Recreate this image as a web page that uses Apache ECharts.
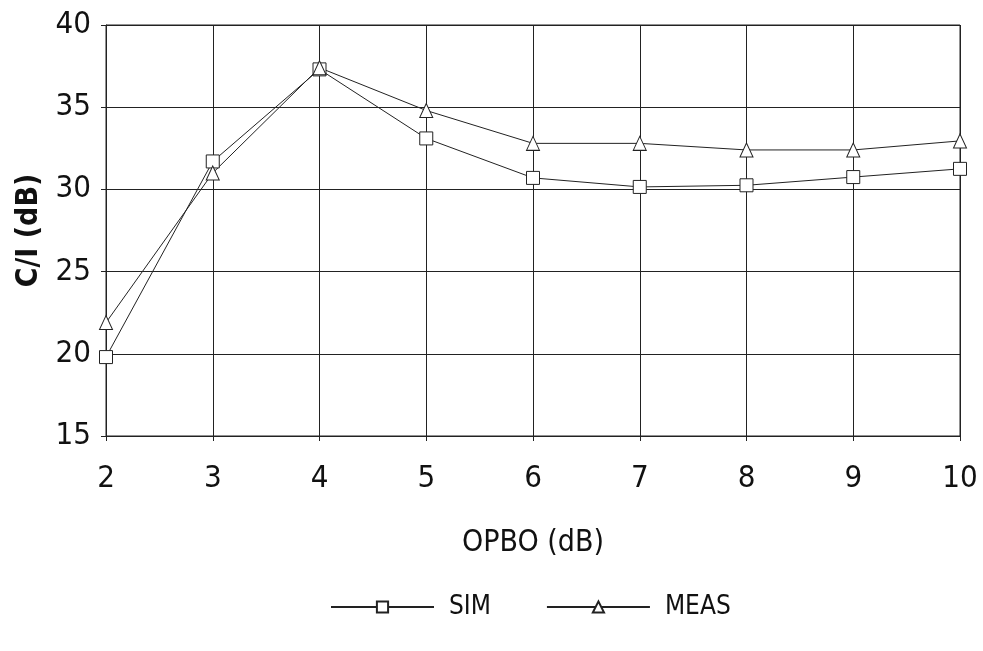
<!DOCTYPE html>
<html><head><meta charset="utf-8">
<script src="https://cdn.jsdelivr.net/npm/echarts@6/dist/echarts.min.js"></script>
<style>html,body{margin:0;padding:0;background:#fff}#c{width:983px;height:651px}</style>
</head><body><div id="c"></div>
<script>
const xValues = [2, 3, 4, 5, 6, 7, 8, 9, 10];
const simValues = [19.8, 31.7, 37.3, 33.1, 30.7, 30.15, 30.25, 30.75, 31.25];
const measValues = [21.9, 31.0, 37.4, 34.8, 32.8, 32.8, 32.4, 32.4, 32.95];
const yTicks = [15, 20, 25, 30, 35, 40];

const chart = echarts.init(document.getElementById('c'), null, {renderer: 'canvas'});
const font = '"Liberation Sans Narrow", "DejaVu Sans Condensed", "Liberation Sans", Arial, sans-serif';
const mk = (vals) => xValues.map((x, i) => [x, vals[i]]);
chart.setOption({
  animation: false,
  backgroundColor: '#fff',
  grid: {left: 106, right: 23, top: 25, bottom: 215, show: true, borderColor: '#222', borderWidth: 1},
  xAxis: {
    type: 'value', min: 2, max: 10, interval: 1,
    name: 'OPBO (dB)', nameLocation: 'middle', nameGap: 92,
    nameTextStyle: {fontFamily: font, fontSize: 30, color: '#111'},
    axisLine: {show: true, lineStyle: {color: '#222', width: 1}},
    axisTick: {show: true, length: 5, lineStyle: {color: '#222'}},
    splitLine: {show: true, lineStyle: {color: '#222', width: 1}},
    axisLabel: {fontFamily: font, fontSize: 31, color: '#111', margin: 27}
  },
  yAxis: {
    type: 'value', min: 15, max: 40, interval: 5,
    name: 'C/I (dB)', nameLocation: 'middle', nameGap: 58, nameRotate: 90,
    nameTextStyle: {fontFamily: font, fontSize: 30, fontWeight: 'bold', color: '#111'},
    axisLine: {show: true, lineStyle: {color: '#222', width: 1}},
    axisTick: {show: true, length: 5, lineStyle: {color: '#222'}},
    splitLine: {show: true, lineStyle: {color: '#222', width: 1}},
    axisLabel: {fontFamily: font, fontSize: 31, color: '#111', margin: 15,
      formatter: v => yTicks.includes(v) ? String(v) : ''}
  },
  legend: {
    top: 589, left: 325, itemWidth: 103, itemHeight: 14, itemGap: 55,
    textStyle: {fontFamily: font, fontSize: 26, color: '#111', padding: [0, 0, 0, 10]},
    data: ['SIM', 'MEAS']
  },
  series: [
    {
      name: 'SIM', type: 'line', data: mk(simValues),
      symbol: 'rect', symbolSize: 13,
      lineStyle: {color: '#222', width: 1},
      itemStyle: {color: '#fff', borderColor: '#222', borderWidth: 1}
    },
    {
      name: 'MEAS', type: 'line', data: mk(measValues),
      symbol: 'triangle', symbolSize: [13, 14],
      lineStyle: {color: '#222', width: 1},
      itemStyle: {color: '#fff', borderColor: '#222', borderWidth: 1}
    }
  ]
});
</script></body></html>
